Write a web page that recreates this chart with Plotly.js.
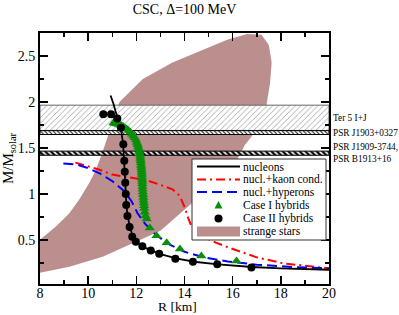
<!DOCTYPE html>
<html>
<head>
<meta charset="utf-8">
<script src="https://cdn.plot.ly/plotly-3.0.1.min.js"></script>
<style>html,body{margin:0;padding:0;background:#fff;}#chart{width:399px;height:315px;}</style>
</head>
<body>
<div id="chart"></div>
<script>
// ---------------- data ----------------
const xRange = [8, 20];
const yRange = [0.02, 2.75];

// strange stars region (outline, R in km, M in Msun)
const starR = [8.0, 8.66, 9.22, 9.63, 10.05, 10.3, 10.55, 10.8, 11.05, 11.3, 12.27, 13.5, 14.6, 15.8, 16.6, 17.2, 17.5, 17.62, 17.55, 17.4, 16.92, 16.5, 16.2, 15.5, 14.8, 14.35, 13.0, 11.57, 10.6, 9.22, 8.0];
const starM = [0.5, 0.645, 0.79, 0.94, 1.12, 1.25, 1.42, 1.62, 1.82, 2.0, 2.25, 2.43, 2.55, 2.68, 2.74, 2.73, 2.62, 2.43, 2.2, 1.96, 1.67, 1.53, 1.38, 1.2, 1.02, 0.91, 0.6, 0.427, 0.317, 0.208, 0.143];

// pulsar mass bands
const bandNames = ['Ter 5 I+J', 'PSR J1903+0327', 'PSR J1909-3744,<br>PSR B1913+16'];
const bandLo = [1.69, 1.646, 1.42];
const bandHi = [1.965, 1.688, 1.465];

// nucleons
const nucR = [10.93, 11.05, 11.2, 11.35, 11.45, 11.5, 11.54, 11.57, 11.62, 11.72, 11.85, 12.05, 12.4, 13.0, 13.7, 14.4, 15.4, 16.8, 18.0, 20.0];
const nucM = [2.07, 1.98, 1.84, 1.72, 1.55, 1.36, 1.12, 0.95, 0.8, 0.65, 0.54, 0.47, 0.41, 0.345, 0.295, 0.262, 0.233, 0.205, 0.19, 0.175];

// nucl.+kaon cond.
const kaonR = [9.47, 9.9, 10.5, 11.0, 11.7, 12.4, 12.98, 13.5, 13.8, 14.0, 14.15, 14.3, 14.5, 14.9, 15.3, 15.9, 17.0, 18.1, 20.0];
const kaonM = [1.34, 1.31, 1.26, 1.21, 1.18, 1.15, 1.10, 1.05, 0.98, 0.86, 0.74, 0.64, 0.58, 0.52, 0.47, 0.41, 0.31, 0.245, 0.19];

// nucl.+hyperons
const hypR = [8.97, 9.5, 10.0, 10.5, 11.0, 11.5, 11.8, 12.05, 12.35, 12.75, 13.3, 14.0, 14.8, 15.8, 17.0, 18.5, 20.0];
const hypM = [1.33, 1.32, 1.28, 1.22, 1.14, 1.03, 0.92, 0.79, 0.68, 0.57, 0.46, 0.37, 0.31, 0.265, 0.23, 0.205, 0.19];

// Case I hybrids (triangles)
const c1R = [11.05, 11.12, 11.2, 11.28, 11.36, 11.44, 11.52, 11.6, 11.68, 11.75, 11.82, 11.88, 11.93, 11.98, 12.02, 12.05, 12.08, 12.1, 12.12, 12.14, 12.16, 12.17, 12.18, 12.19, 12.2, 12.21, 12.22, 12.225, 12.23, 12.235, 12.24, 12.245, 12.25, 12.255, 12.26, 12.27, 12.28, 12.29, 12.3, 12.31, 12.32, 12.33, 12.35, 12.38, 12.43, 12.56, 12.84, 13.26, 13.81, 14.7, 16.16];
const c1M = [1.77, 1.765, 1.76, 1.755, 1.745, 1.735, 1.72, 1.705, 1.69, 1.67, 1.65, 1.63, 1.61, 1.585, 1.56, 1.535, 1.51, 1.485, 1.46, 1.435, 1.41, 1.385, 1.36, 1.335, 1.31, 1.285, 1.26, 1.235, 1.21, 1.185, 1.16, 1.135, 1.11, 1.08, 1.05, 1.02, 0.99, 0.96, 0.93, 0.9, 0.87, 0.84, 0.8, 0.76, 0.726, 0.628, 0.544, 0.47, 0.40, 0.325, 0.27];

// Case II hybrids (circles)
const c2R = [10.63, 10.95, 11.21, 11.36, 11.46, 11.5, 11.52, 11.54, 11.56, 11.58, 11.63, 11.72, 11.83, 11.98, 12.25, 12.6, 12.95, 13.62, 14.35, 15.36, 16.78];
const c2M = [1.866, 1.866, 1.82, 1.72, 1.54, 1.36, 1.24, 1.12, 1.0, 0.88, 0.76, 0.64, 0.535, 0.48, 0.43, 0.385, 0.348, 0.295, 0.263, 0.235, 0.20];

const legendLabels = ['nucleons', 'nucl.+kaon cond.', 'nucl.+hyperons', 'Case I hybrids', 'Case II hybrids', 'strange stars'];

// ---------------- styling ----------------
const FONT = 'Liberation Serif, Times New Roman, serif';
const ROSE = '#bc8f8f';
const GREEN = '#0a8f0a';
const KAON_DASH = '9px,4px,2px,4px';
const HYP_DASH = '10px,5px';

const bandStyles = [
  {pattern: {shape: '/', size: 4, solidity: 0.15, fgcolor: '#777', bgcolor: '#fff'}, line: '#666'},
  {pattern: {shape: '\\', size: 3, solidity: 0.35, fgcolor: '#222', bgcolor: '#fff'}, line: '#000'},
  {pattern: {shape: '\\', size: 4, solidity: 0.55, fgcolor: '#000', bgcolor: '#fff'}, line: '#000'}
];

const traces = [];
traces.push({type: 'scatter', mode: 'lines', x: starR, y: starM, fill: 'toself', fillcolor: ROSE,
  line: {width: 0, color: ROSE}, hoverinfo: 'skip', showlegend: false});

bandNames.forEach((n, i) => {
  traces.push({type: 'scatter', mode: 'lines',
    x: [xRange[0], xRange[1], xRange[1], xRange[0], xRange[0]],
    y: [bandLo[i], bandLo[i], bandHi[i], bandHi[i], bandLo[i]],
    fill: 'toself', fillcolor: '#fff', fillpattern: bandStyles[i].pattern,
    line: {width: 1, color: bandStyles[i].line}, showlegend: false, hoverinfo: 'skip'});
});

traces.push({type: 'scatter', mode: 'lines', x: kaonR, y: kaonM, line: {color: '#ff0000', width: 2, dash: KAON_DASH}, showlegend: false});
traces.push({type: 'scatter', mode: 'lines', x: hypR, y: hypM, line: {color: '#0000ff', width: 2, dash: HYP_DASH}, showlegend: false});
traces.push({type: 'scatter', mode: 'lines', x: nucR, y: nucM, line: {color: '#000', width: 1.8}, showlegend: false});
traces.push({type: 'scatter', mode: 'markers', x: c1R, y: c1M, marker: {symbol: 'triangle-up', size: 9, color: GREEN}, showlegend: false});
traces.push({type: 'scatter', mode: 'markers', x: c2R, y: c2M, marker: {symbol: 'circle', size: 8, color: '#000'}, showlegend: false});

// ---------------- layout ----------------
const M = {l: 40, r: 70, t: 33, b: 31};
const W = 399, H = 315;
const PW = W - M.l - M.r, PH = H - M.t - M.b;
const xp = px => (px - M.l) / PW;
const yp = py => (H - M.b - py) / PH;

const shapes = [];
const annotations = [];

// custom legend
shapes.push({type: 'rect', xref: 'paper', yref: 'paper', x0: xp(192), x1: xp(326), y0: yp(240), y1: yp(159),
  fillcolor: '#fff', line: {color: '#333', width: 1}, layer: 'above'});
const rowY = [166.5, 179.5, 192, 205, 218.5, 231.5];
const sx0 = xp(197), sx1 = xp(240), sxm = xp(218.5);
shapes.push({type: 'line', xref: 'paper', yref: 'paper', x0: sx0, x1: sx1, y0: yp(rowY[0]), y1: yp(rowY[0]), line: {color: '#000', width: 2}, layer: 'above'});
shapes.push({type: 'line', xref: 'paper', yref: 'paper', x0: sx0, x1: sx1, y0: yp(rowY[1]), y1: yp(rowY[1]), line: {color: '#ff0000', width: 2, dash: KAON_DASH}, layer: 'above'});
shapes.push({type: 'line', xref: 'paper', yref: 'paper', x0: sx0, x1: sx1, y0: yp(rowY[2]), y1: yp(rowY[2]), line: {color: '#0000ff', width: 2, dash: HYP_DASH}, layer: 'above'});
shapes.push({type: 'path', xref: 'paper', yref: 'paper', xsizemode: 'pixel', ysizemode: 'pixel', xanchor: sxm, yanchor: yp(rowY[3]),
  path: 'M -4 -3.5 L 4 -3.5 L 0 4 Z', fillcolor: GREEN, line: {width: 0}, layer: 'above'});
shapes.push({type: 'circle', xref: 'paper', yref: 'paper', xsizemode: 'pixel', ysizemode: 'pixel', xanchor: sxm, yanchor: yp(rowY[4]),
  x0: -4, x1: 4, y0: -4, y1: 4, fillcolor: '#000', line: {width: 0}, layer: 'above'});
shapes.push({type: 'rect', xref: 'paper', yref: 'paper', x0: sx0, x1: sx1, y0: yp(rowY[5] + 5), y1: yp(rowY[5] - 5),
  fillcolor: ROSE, line: {width: 0}, layer: 'above'});
legendLabels.forEach((t, i) => {
  annotations.push({xref: 'paper', yref: 'paper', x: xp(242), y: yp(rowY[i]), xanchor: 'left', yanchor: 'middle',
    text: t, showarrow: false, borderpad: 0, font: {family: FONT, size: 11.5, color: '#000'}});
});

// band labels
bandNames.forEach((n, i) => {
  annotations.push({xref: 'paper', yref: 'y', x: xp(332), y: (bandLo[i] + bandHi[i]) / 2, xanchor: 'left', yanchor: 'middle',
    text: n, align: 'left', showarrow: false, borderpad: 0, font: {family: FONT, size: 9.3, color: '#000'}});
});

// x-axis title placed below the tick labels
annotations.push({xref: 'paper', yref: 'paper', x: xp(177), y: yp(315), xanchor: 'center', yanchor: 'bottom',
  text: 'R [km]', showarrow: false, borderpad: 0, font: {family: FONT, size: 13.5, color: '#000'}});

const axisCommon = {
  showgrid: false, zeroline: false, showline: true, linecolor: '#000', linewidth: 2, mirror: 'allticks',
  ticks: 'inside', ticklen: 8, tickwidth: 1.5, tickcolor: '#000',
  tickfont: {family: FONT, size: 14, color: '#000'}
};

const layout = {
  width: W, height: H, margin: M, paper_bgcolor: '#fff', plot_bgcolor: '#fff', showlegend: false,
  title: {text: 'CSC, Δ=100 MeV', x: 0.5, xref: 'paper', y: 1 - 9 / H, yref: 'container', yanchor: 'middle',
    font: {family: FONT, size: 14, color: '#000'}},
  xaxis: Object.assign({}, axisCommon, {range: xRange, dtick: 2, tick0: 0, ticklabelstandoff: -5,
    minor: {dtick: 1, ticklen: 4, tickwidth: 1.5, tickcolor: '#000', ticks: 'inside'}}),
  yaxis: Object.assign({}, axisCommon, {range: yRange, dtick: 0.5, tick0: 0,
    minor: {dtick: 0.25, ticklen: 4, tickwidth: 1.5, tickcolor: '#000', ticks: 'inside'},
    title: {text: 'M/M<sub>solar</sub>', font: {family: FONT, size: 15, color: '#000'}, standoff: 4}}),
  shapes: shapes, annotations: annotations
};

Plotly.newPlot('chart', traces, layout, {displayModeBar: false, staticPlot: true});
</script>
</body>
</html>
